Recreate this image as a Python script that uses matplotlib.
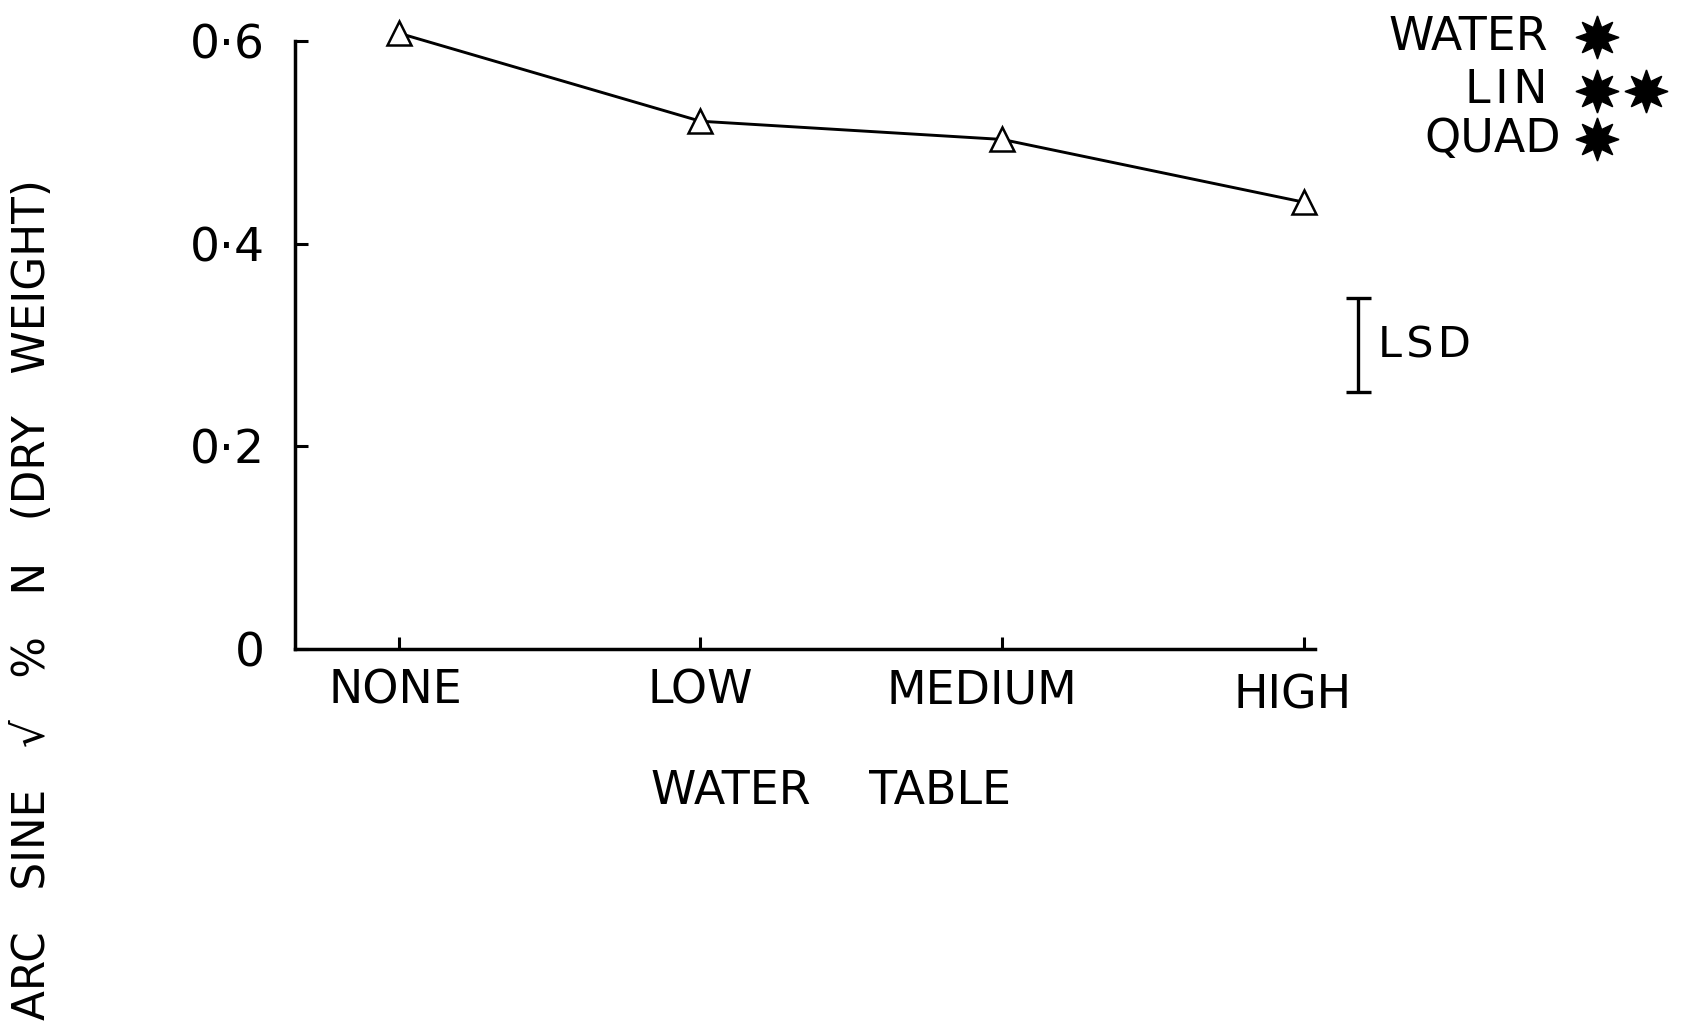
import numpy as np
import matplotlib
matplotlib.use("Agg")
from matplotlib import pyplot as plt
from matplotlib.lines import Line2D
from matplotlib.transforms import ScaledTranslation

# data
levels = ["NONE", "LOW", "MEDIUM", "HIGH"]
arcsine_n = [0.608, 0.521, 0.503, 0.441]
yticks = [0.0, 0.2, 0.4, 0.6]
ytick_labels = ["0", "0·2", "0·4", "0·6"]
lsd_value = 0.092
lsd_center = 0.300
signif_terms = ["WATER", "L\u200aI\u200aN", "QUAD"]
signif_stars = [1, 2, 1]

plt.rcParams["font.family"] = ["DejaVu Sans"]

fig = plt.figure(figsize=(16.88, 10.30), dpi=100)
ax = fig.add_axes([0.1748, 0.370, 0.779 - 0.1748, 0.590])

x = np.arange(len(levels))
ax.plot(x, arcsine_n, color="black", lw=2.1, marker="^", ms=17,
        mfc="white", mec="black", mew=1.8, clip_on=False, zorder=3)

ax.set_xlim(-0.343, 3.036)
ax.set_ylim(0, 0.6)

for s in ["top", "right"]:
    ax.spines[s].set_visible(False)
for s in ["left", "bottom"]:
    ax.spines[s].set_linewidth(2.5)

ax.set_yticks(yticks)
ax.set_yticklabels(ytick_labels)
ax.set_xticks(x)
ax.set_xticklabels(levels)
ax.tick_params(axis="y", direction="in", length=9, width=2.2, labelsize=34, pad=22)
ax.tick_params(axis="x", direction="in", length=9, width=2.2, labelsize=33, pad=14)

# hand-lettered labels sit a little off their ticks
shifts = [(-3, 0), (0, 0), (-20, 0), (-12, -5)]
for lab, (dx, dy) in zip(ax.get_xticklabels(), shifts):
    lab.set_transform(lab.get_transform() + ScaledTranslation(dx / 100, dy / 100, fig.dpi_scale_trans))

ax.set_xlabel("WATER    TABLE", fontsize=33)
ax.xaxis.set_label_coords(0.525, -0.234)
ax.xaxis.label.set_va("center")

# LSD bar
ax.errorbar([3.18], [lsd_center], yerr=[lsd_value / 2], fmt="none", ecolor="black",
            elinewidth=2.4, capsize=9, capthick=2.4, clip_on=False)
ax.text(3.245, lsd_center, "L\u200aS\u200aD", fontsize=31, ha="left", va="center")

# significance notes, top right
rows_y = [0.964, 0.912, 0.865]
text_right = [0.917, 0.917, 0.925]
for term, n, yy, xr in zip(signif_terms, signif_stars, rows_y, text_right):
    fig.text(xr, yy, term, fontsize=33, ha="right", va="center")
    for k in range(n):
        fig.add_artist(Line2D([0.946 + k * 0.029], [yy], marker=(8, 1, 0), ms=31,
                              color="black", transform=fig.transFigure))

fig.text(0.019, 0.4175, "ARC   SINE   √   %   N   (DRY   WEIGHT)", fontsize=31.5,
         rotation=90, ha="center", va="center")

fig.savefig("out.png", dpi=100)
